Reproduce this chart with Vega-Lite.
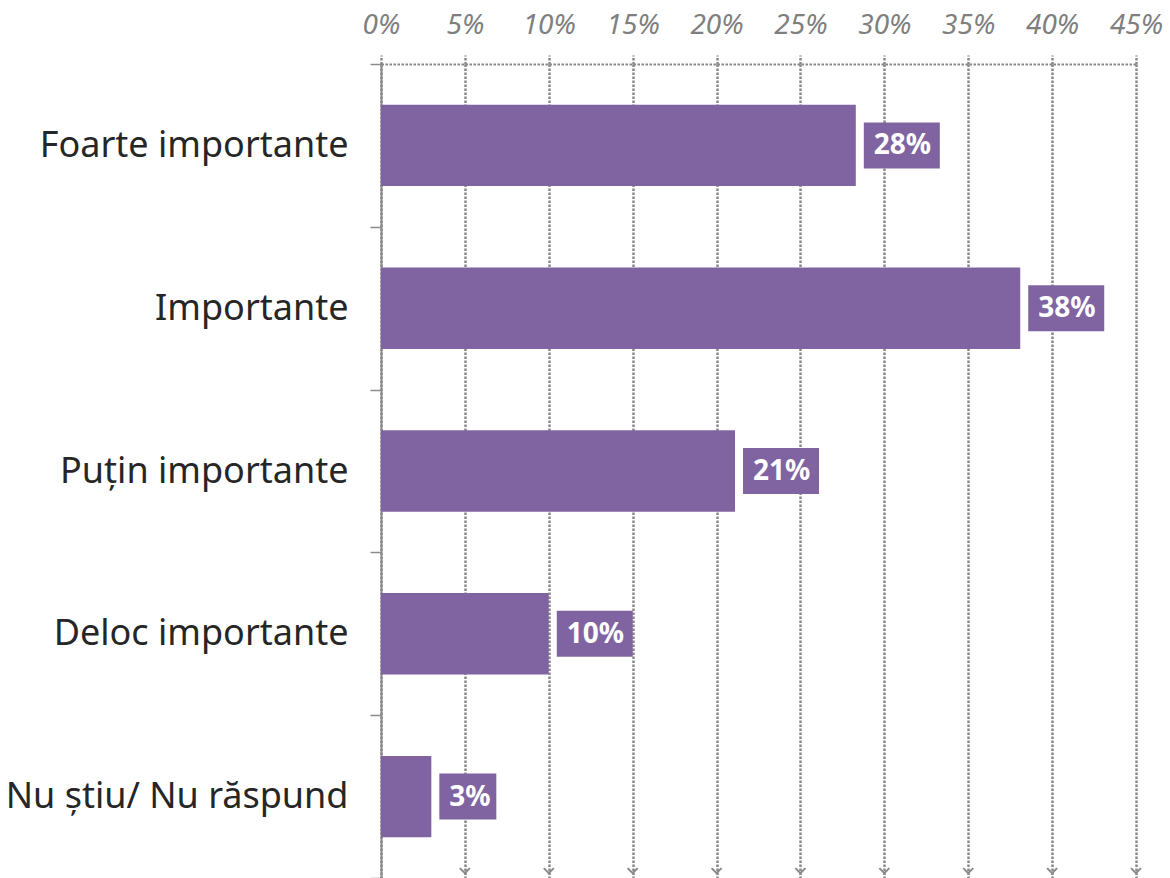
{
  "$schema": "https://vega.github.io/schema/vega-lite/v6.json",
  "autosize": {"type": "none"},
  "padding": {"left": 381, "top": 64, "right": 34, "bottom": 0},
  "width": 755,
  "height": 814,
  "background": "white",
  "config": {"view": {"stroke": null}, "font": "Noto Sans"},
  "datasets": {
    "main": [
      {"category": "Foarte importante", "value": 0.283, "label": "28%"},
      {"category": "Importante", "value": 0.381, "label": "38%"},
      {"category": "Puțin importante", "value": 0.211, "label": "21%"},
      {"category": "Deloc importante", "value": 0.100, "label": "10%"},
      {"category": "Nu știu/ Nu răspund", "value": 0.030, "label": "3%"}
    ],
    "ticks": [
      {"tick": 0.05}, {"tick": 0.10}, {"tick": 0.15}, {"tick": 0.20},
      {"tick": 0.25}, {"tick": 0.30}, {"tick": 0.35}, {"tick": 0.40}, {"tick": 0.45}
    ]
  },
  "data": {"name": "main"},
  "encoding": {
    "y": {
      "field": "category",
      "type": "nominal",
      "sort": null,
      "scale": {"paddingInner": 0, "paddingOuter": 0},
      "axis": {
        "title": null,
        "domainColor": "#8c8c8c",
        "domainWidth": 2,
        "tickColor": "#8c8c8c",
        "tickWidth": 1.5,
        "tickSize": 11,
        "tickBand": "extent",
        "labelFontSize": 36,
        "labelColor": "#262626",
        "labelPadding": 22,
        "labelLimit": 0,
        "labelFont": "Noto Sans"
      }
    }
  },
  "layer": [
    {
      "mark": {"type": "bar", "color": "#8064A2", "height": {"band": 0.5}},
      "encoding": {
        "x": {
          "field": "value",
          "type": "quantitative",
          "scale": {"domain": [0, 0.45], "nice": false},
          "axis": {
            "orient": "top",
            "format": ".0%",
            "values": [0, 0.05, 0.1, 0.15, 0.2, 0.25, 0.3, 0.35, 0.4, 0.45],
            "title": null,
            "labelFlush": false,
            "labelOverlap": false,
            "domainColor": "#888888",
            "domainDash": [2.5, 1.5],
            "domainWidth": 2,
            "tickColor": "#888888",
            "tickDash": [2.5, 1.5],
            "tickWidth": 2.5,
            "tickSize": 9,
            "grid": true,
            "gridColor": "#888888",
            "gridDash": [2.5, 1.5],
            "gridWidth": 2.5,
            "gridOpacity": 1,
            "labelFontSize": 28,
            "labelFontStyle": "italic",
            "labelColor": "#7f7f7f",
            "labelPadding": 16,
            "labelFont": "Noto Sans"
          }
        }
      }
    },
    {
      "transform": [{"filter": "length(datum.label) > 2"}],
      "mark": {"type": "bar", "color": "#8064A2", "height": 46, "xOffset": 8, "x2Offset": 84},
      "encoding": {
        "x": {"field": "value", "type": "quantitative"},
        "x2": {"field": "value"}
      }
    },
    {
      "transform": [{"filter": "length(datum.label) <= 2"}],
      "mark": {"type": "bar", "color": "#8064A2", "height": 46, "xOffset": 8, "x2Offset": 65},
      "encoding": {
        "x": {"field": "value", "type": "quantitative"},
        "x2": {"field": "value"}
      }
    },
    {
      "mark": {"type": "text", "align": "left", "baseline": "middle", "dx": 18, "dy": 1, "color": "white", "fontWeight": "bold", "fontSize": 28, "font": "Noto Sans"},
      "encoding": {
        "x": {"field": "value", "type": "quantitative"},
        "text": {"field": "label"}
      }
    },
    {
      "data": {"name": "ticks"},
      "mark": {"type": "point", "shape": "M-1,-1L0,0L1,-1", "filled": false, "stroke": "#888888", "strokeWidth": 2, "size": 100, "opacity": 1},
      "encoding": {
        "x": {"field": "tick", "type": "quantitative"},
        "y": {"datum": "Nu știu/ Nu răspund", "bandPosition": 0.97}
      }
    }
  ]
}
